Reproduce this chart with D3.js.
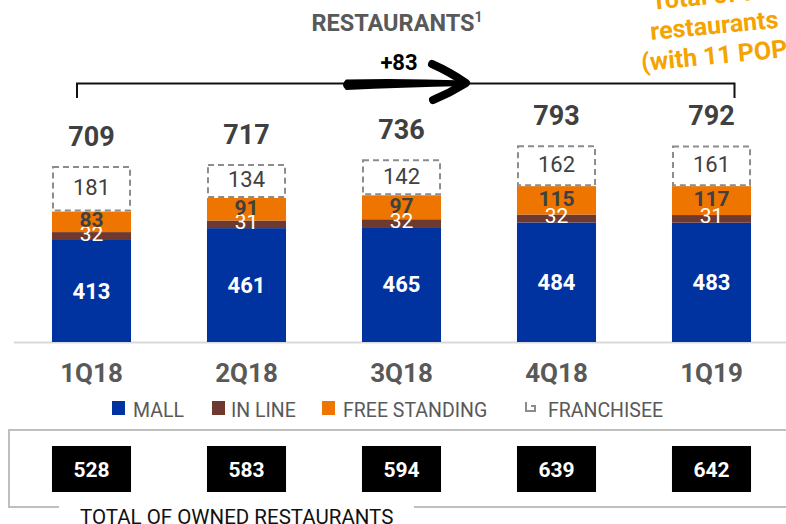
<!DOCTYPE html>
<html>
<head>
<meta charset="utf-8">
<script src="https://cdn.jsdelivr.net/npm/d3@7"></script>
<style>
  body { margin: 0; background: #fff; }
  svg { display: block; font-family: Roboto, "DejaVu Sans", sans-serif; }
</style>
</head>
<body>
<div id="chart"></div>
<script>
var width = 786,
    height = 524;

var categories = ["1Q18", "2Q18", "3Q18", "4Q18", "1Q19"];
var mall = [413, 461, 465, 484, 483];
var inLine = [32, 31, 32, 32, 31];
var freeStanding = [83, 91, 97, 115, 117];
var franchisee = [181, 134, 142, 162, 161];
var totals = [709, 717, 736, 793, 792];
var owned = [528, 583, 594, 639, 642];

var colors = { mall: "#0033a0", inLine: "#6e3a2f", free: "#ee7600", fr: "#8c8c8c" };

var svg = d3.select("#chart").append("svg")
    .attr("width", width)
    .attr("height", height);

var x = d3.scaleBand()
    .domain(categories)
    .range([14, 789])
    .paddingInner(0.49)
    .paddingOuter(0.245);

var y = d3.scaleLinear()
    .domain([0, 800])
    .range([342, 144.4]);

// build stacked rows
var rows = categories.map(function (c, i) {
    return { cat: c, mall: mall[i], inLine: inLine[i], free: freeStanding[i], fr: franchisee[i], total: totals[i], owned: owned[i] };
});
var stack = d3.stack().keys(["mall", "inLine", "free", "fr"])(rows);

// title
var title = svg.append("text")
    .attr("x", 397).attr("y", 31)
    .attr("text-anchor", "middle")
    .attr("fill", "#595959")
    .attr("font-weight", "bold")
    .attr("font-size", 23.5)
    .text("RESTAURANTS");
title.append("tspan").attr("dy", -9).attr("font-size", 14).text("1");

// orange note, partly out of frame
var note = svg.append("g")
    .attr("transform", "translate(651,40) rotate(-5.5)")
    .attr("fill", "#f5a300")
    .attr("font-weight", "bold")
    .attr("font-size", 25);
note.append("text").attr("x", 4).attr("y", -30).text("Total of 792");
note.append("text").attr("x", 0).attr("y", 0).text("restaurants");
note.append("text").attr("x", -12).attr("y", 30).text("(with 11 POP-UPS)");

// bracket
svg.append("path")
    .attr("d", "M77,98 V83.5 H734.5 V98")
    .attr("fill", "none")
    .attr("stroke", "#111")
    .attr("stroke-width", 2);

// arrow
svg.append("path")
    .attr("d", "M346,79.5 Q400,78 467,80.5 L467,86 Q400,87.5 346,90 Q340,85 346,79.5 Z")
    .attr("fill", "#000");
svg.append("path")
    .attr("d", "M432,64 Q450,72 466,83 Q450,93 433,100")
    .attr("fill", "none")
    .attr("stroke", "#000")
    .attr("stroke-width", 8)
    .attr("stroke-linecap", "round")
    .attr("stroke-linejoin", "round");

svg.append("text")
    .attr("x", 399).attr("y", 70)
    .attr("text-anchor", "middle")
    .attr("font-weight", "bold")
    .attr("font-size", 22)
    .attr("fill", "#000")
    .text("+83");

// baseline
svg.append("line")
    .attr("x1", 14).attr("x2", 786)
    .attr("y1", 342.5).attr("y2", 342.5)
    .attr("stroke", "#d9d9d9")
    .attr("stroke-width", 2);

// bars
var layers = svg.selectAll("g.layer")
    .data(stack)
    .enter().append("g")
    .attr("class", "layer");

layers.each(function (layer) {
    var key = layer.key;
    var g = d3.select(this);
    g.selectAll("rect")
        .data(layer)
        .enter().append("rect")
        .attr("x", function (d) { return x(d.data.cat) + (key == "fr" ? 1 : 0); })
        .attr("width", x.bandwidth() - (key == "fr" ? 2 : 0))
        .attr("y", function (d) { return y(d[1]); })
        .attr("height", function (d) { return y(d[0]) - y(d[1]) - (key == "fr" ? 1 : 0); })
        .attr("fill", key == "fr" ? "#fff" : colors[key])
        .attr("stroke", key == "fr" ? colors.fr : "none")
        .attr("stroke-width", 2)
        .attr("stroke-dasharray", key == "fr" ? "6,4" : null);
});

// segment labels
var labelStyle = {
    mall: { fill: "#fff", weight: "bold", size: 22, dy: 0 },
    inLine: { fill: "#fff", weight: "normal", size: 21, dy: -3 },
    free: { fill: "#404040", weight: "bold", size: 21, dy: -2 },
    fr: { fill: "#404040", weight: "normal", size: 22, dy: -2 }
};
stack.forEach(function (layer) {
    var s = labelStyle[layer.key];
    svg.append("g").selectAll("text")
        .data(layer)
        .enter().append("text")
        .attr("x", function (d) { return x(d.data.cat) + x.bandwidth() / 2; })
        .attr("y", function (d) { return (y(d[0]) + y(d[1])) / 2 + s.dy; })
        .attr("dy", "0.36em")
        .attr("text-anchor", "middle")
        .attr("fill", s.fill)
        .attr("font-weight", s.weight)
        .attr("font-size", s.size)
        .text(function (d) { return d.data[layer.key]; });
});

// totals
svg.append("g").selectAll("text")
    .data(rows)
    .enter().append("text")
    .attr("x", function (d) { return x(d.cat) + x.bandwidth() / 2; })
    .attr("y", function (d) { return y(d.mall + d.inLine + d.free + d.fr) - 21; })
    .attr("text-anchor", "middle")
    .attr("fill", "#404040")
    .attr("font-weight", "bold")
    .attr("font-size", 27)
    .text(function (d) { return d.total; });

// category axis
var xAxis = svg.append("g")
    .attr("transform", "translate(0,342)")
    .call(d3.axisBottom(x).tickSize(0).tickPadding(40));
xAxis.select(".domain").remove();
xAxis.selectAll("text")
    .attr("fill", "#595959")
    .attr("font-family", "Roboto, sans-serif")
    .attr("font-weight", "bold")
    .attr("font-size", 26)
    .attr("dy", 0);

// legend
var legend = [
    { label: "MALL", color: colors.mall, x: 112, tx: 133 },
    { label: "IN LINE", color: colors.inLine, x: 212, tx: 231 },
    { label: "FREE STANDING", color: colors.free, x: 322, tx: 343 },
    { label: "FRANCHISEE", color: null, x: 525, tx: 548 }
];
var lg = svg.append("g");
legend.forEach(function (l) {
    if (l.color) {
        lg.append("rect").attr("x", l.x).attr("y", 401).attr("width", 13).attr("height", 14).attr("fill", l.color);
    } else {
        lg.append("path")
            .attr("d", "M" + (l.x + 1) + ",402 V411 H" + (l.x + 10) + " V406 H" + (l.x + 6))
            .attr("fill", "none").attr("stroke", "#8c8c8c").attr("stroke-width", 2);
    }
    lg.append("text").attr("x", l.tx).attr("y", 417)
        .attr("fill", "#595959").attr("font-size", 19.5).text(l.label);
});

// owned restaurants box
svg.append("path")
    .attr("d", "M59,507 H9 V430 H790 M414,507 H790")
    .attr("fill", "none")
    .attr("stroke", "#bfbfbf")
    .attr("stroke-width", 2);

var ob = svg.append("g").selectAll("g")
    .data(rows)
    .enter().append("g");
ob.append("rect")
    .attr("x", function (d) { return x(d.cat); })
    .attr("width", x.bandwidth())
    .attr("y", 446)
    .attr("height", 46)
    .attr("fill", "#000");
ob.append("text")
    .attr("x", function (d) { return x(d.cat) + x.bandwidth() / 2; })
    .attr("y", 477)
    .attr("text-anchor", "middle")
    .attr("fill", "#fff")
    .attr("font-weight", "bold")
    .attr("font-size", 21)
    .text(function (d) { return d.owned; });

svg.append("text")
    .attr("x", 80).attr("y", 524)
    .attr("fill", "#111")
    .attr("font-size", 20.5)
    .text("TOTAL OF OWNED RESTAURANTS");
</script>
</body>
</html>
